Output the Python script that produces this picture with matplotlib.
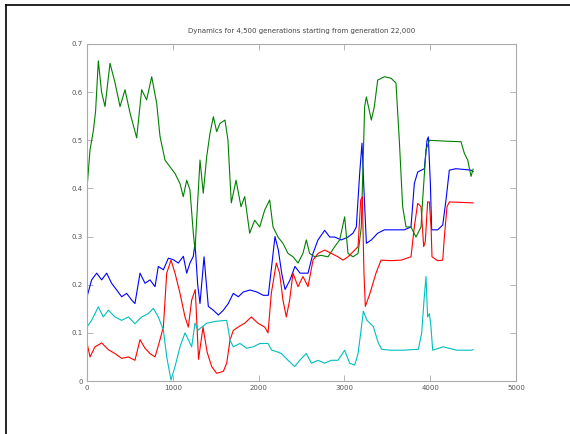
import matplotlib
matplotlib.use('Agg')
import matplotlib.pyplot as plt
from matplotlib.lines import Line2D

# Allele frequencies sampled along the run (generation, frequency)
blue_gen = [0, 54, 113, 171, 229, 287, 346, 404, 462, 521, 559, 618, 676, 734, 793, 831, 890, 948,
            1006, 1064, 1123, 1162, 1200, 1239, 1259, 1290, 1317, 1364, 1414, 1473, 1531, 1589, 1647,
            1705, 1764, 1822, 1900, 1978, 2055, 2113, 2152, 2191, 2230, 2269, 2308, 2366, 2424, 2483,
            2576, 2634, 2692, 2770, 2829, 2887, 2964, 3042, 3100, 3139, 3178, 3205, 3228, 3256, 3314,
            3388, 3466, 3699, 3776, 3815, 3854, 3932, 3963, 3978, 4002, 4017, 4087, 4146, 4184, 4223,
            4300, 4476, 4500]
blue_val = [0.175, 0.21, 0.224, 0.21, 0.224, 0.203, 0.189, 0.175, 0.182, 0.168, 0.161, 0.224, 0.203,
            0.21, 0.196, 0.238, 0.231, 0.255, 0.252, 0.245, 0.259, 0.224, 0.245, 0.259, 0.286, 0.2,
            0.161, 0.258, 0.155, 0.147, 0.137, 0.147, 0.161, 0.182, 0.175, 0.185, 0.189, 0.185, 0.178,
            0.178, 0.238, 0.30, 0.272, 0.224, 0.19, 0.21, 0.238, 0.224, 0.224, 0.265, 0.293, 0.313,
            0.299, 0.299, 0.293, 0.299, 0.307, 0.32, 0.431, 0.494, 0.397, 0.286, 0.293, 0.307, 0.314,
            0.314, 0.32, 0.41, 0.434, 0.441, 0.50, 0.507, 0.41, 0.314, 0.314, 0.324, 0.376, 0.438,
            0.441, 0.438, 0.435]

green_gen = [0, 35, 74, 100, 132, 170, 210, 268, 326, 385, 443, 501, 579, 637, 695, 754, 812, 851,
             909, 967, 1026, 1084, 1122, 1162, 1200, 1239, 1259, 1278, 1317, 1355, 1395, 1434, 1473,
             1511, 1550, 1608, 1643, 1667, 1682, 1737, 1795, 1838, 1896, 1954, 2013, 2071, 2129,
             2168, 2226, 2284, 2343, 2401, 2459, 2517, 2556, 2595, 2654, 2727, 2809, 2887, 2945,
             3003, 3042, 3100, 3159, 3197, 3236, 3256, 3314, 3349, 3388, 3466, 3543, 3601, 3640,
             3679, 3718, 3776, 3834, 3893, 3912, 3951, 3990, 4200, 4359, 4398, 4437, 4476, 4500]
green_val = [0.40, 0.48, 0.52, 0.56, 0.665, 0.60, 0.57, 0.66, 0.62, 0.57, 0.605, 0.557, 0.505, 0.605,
             0.584, 0.632, 0.577, 0.508, 0.459, 0.445, 0.431, 0.41, 0.383, 0.417, 0.397, 0.307,
             0.272, 0.334, 0.459, 0.39, 0.466, 0.515, 0.549, 0.518, 0.535, 0.542, 0.50, 0.418, 0.37,
             0.417, 0.362, 0.383, 0.307, 0.334, 0.32, 0.355, 0.376, 0.32, 0.299, 0.286, 0.265,
             0.258, 0.245, 0.265, 0.293, 0.265, 0.258, 0.261, 0.258, 0.279, 0.293, 0.341, 0.265,
             0.258, 0.265, 0.32, 0.57, 0.59, 0.542, 0.57, 0.625, 0.632, 0.629, 0.619, 0.50, 0.362,
             0.32, 0.32, 0.299, 0.32, 0.376, 0.48, 0.50, 0.498, 0.497, 0.473, 0.459, 0.425, 0.44]

red_gen = [0, 35, 93, 171, 249, 326, 404, 482, 559, 618, 676, 734, 793, 851, 890, 929, 979, 1026,
           1084, 1142, 1181, 1220, 1262, 1300, 1352, 1400, 1453, 1511, 1589, 1628, 1667, 1705, 1760,
           1838, 1915, 1993, 2071, 2110, 2148, 2206, 2245, 2284, 2323, 2362, 2401, 2459, 2517, 2576,
           2634, 2692, 2770, 2848, 2925, 2984, 3042, 3120, 3159, 3190, 3209, 3228, 3244, 3298, 3368,
           3427, 3543, 3660, 3776, 3815, 3854, 3893, 3924, 3943, 3970, 3990, 4010, 4021, 4087, 4146,
           4165, 4196, 4223, 4500]
red_val = [0.079, 0.05, 0.071, 0.079, 0.065, 0.057, 0.047, 0.05, 0.043, 0.086, 0.068, 0.057, 0.05,
           0.086, 0.112, 0.224, 0.251, 0.224, 0.182, 0.133, 0.112, 0.168, 0.19, 0.045, 0.112, 0.06,
           0.03, 0.016, 0.02, 0.037, 0.085, 0.105, 0.112, 0.12, 0.133, 0.12, 0.112, 0.1, 0.182,
           0.245, 0.224, 0.168, 0.133, 0.168, 0.224, 0.196, 0.217, 0.196, 0.251, 0.265, 0.272,
           0.265, 0.258, 0.251, 0.258, 0.272, 0.279, 0.376, 0.383, 0.224, 0.155, 0.182, 0.224,
           0.251, 0.25, 0.251, 0.258, 0.32, 0.369, 0.362, 0.279, 0.29, 0.372, 0.372, 0.32, 0.258,
           0.25, 0.251, 0.299, 0.362, 0.372, 0.37]

cyan_gen = [0, 54, 132, 190, 249, 326, 404, 482, 559, 637, 715, 773, 831, 890, 929, 979, 1026, 1084,
            1142, 1181, 1220, 1259, 1297, 1337, 1395, 1500, 1628, 1667, 1705, 1783, 1861, 1938, 2016,
            2110, 2152, 2211, 2265, 2343, 2420, 2479, 2556, 2615, 2692, 2770, 2848, 2925, 3003, 3061,
            3120, 3159, 3190, 3221, 3263, 3337, 3395, 3434, 3531, 3687, 3862, 3901, 3928, 3951, 3970,
            3990, 4006, 4029, 4153, 4309, 4483, 4500]
cyan_val = [0.112, 0.126, 0.154, 0.133, 0.147, 0.133, 0.126, 0.133, 0.119, 0.133, 0.14, 0.151, 0.133,
            0.106, 0.05, 0.002, 0.03, 0.071, 0.1, 0.086, 0.071, 0.12, 0.106, 0.112, 0.12, 0.124,
            0.126, 0.085, 0.071, 0.078, 0.068, 0.071, 0.078, 0.078, 0.064, 0.061, 0.057, 0.043,
            0.03, 0.043, 0.057, 0.037, 0.043, 0.037, 0.043, 0.043, 0.064, 0.037, 0.033, 0.057,
            0.1, 0.145, 0.126, 0.113, 0.079, 0.066, 0.064, 0.064, 0.066, 0.1, 0.168, 0.217, 0.133,
            0.14, 0.119, 0.064, 0.071, 0.064, 0.064, 0.065]

x_ticks = [0, 1000, 2000, 3000, 4000, 5000]
y_ticks = [0, 0.1, 0.2, 0.3, 0.4, 0.5, 0.6, 0.7]
y_labels = ['0', '0.1', '0.2', '0.3', '0.4', '0.5', '0.6', '0.7']

fig = plt.figure(figsize=(5.7, 4.34), dpi=100)
ax = fig.add_axes([87 / 570, 1 - 381 / 434, (516 - 87) / 570, (381 - 44) / 434])

ax.plot(blue_gen, blue_val, color='#0000ff', lw=0.8)
ax.plot(green_gen, green_val, color='#008000', lw=0.8)
ax.plot(red_gen, red_val, color='#ff0000', lw=0.8)
ax.plot(cyan_gen, cyan_val, color='#00bfbf', lw=0.8)

ax.set_xlim(0, 5000)
ax.set_ylim(0, 0.7)
ax.set_xticks(x_ticks)
ax.set_xticklabels([str(t) for t in x_ticks])
ax.set_yticks(y_ticks)
ax.set_yticklabels(y_labels)
ax.tick_params(direction='in', top=True, right=True, length=4, width=0.6,
               color='#aaaaaa', labelsize=5, labelcolor='#555555', pad=3)
for s in ax.spines.values():
    s.set_color('#aaaaaa')
    s.set_linewidth(0.8)

ax.set_title('Dynamics for 4,500 generations starting from generation 22,000',
             fontsize=5, color='#444444', pad=8)

# window frame around the figure
fig.add_artist(Line2D([6 / 570, 6 / 570], [0, 1 - 4.5 / 434], color='black', lw=1.2))
fig.add_artist(Line2D([6 / 570, 1], [1 - 4.5 / 434, 1 - 4.5 / 434], color='black', lw=1.2))

fig.savefig('out.png', dpi=100)
